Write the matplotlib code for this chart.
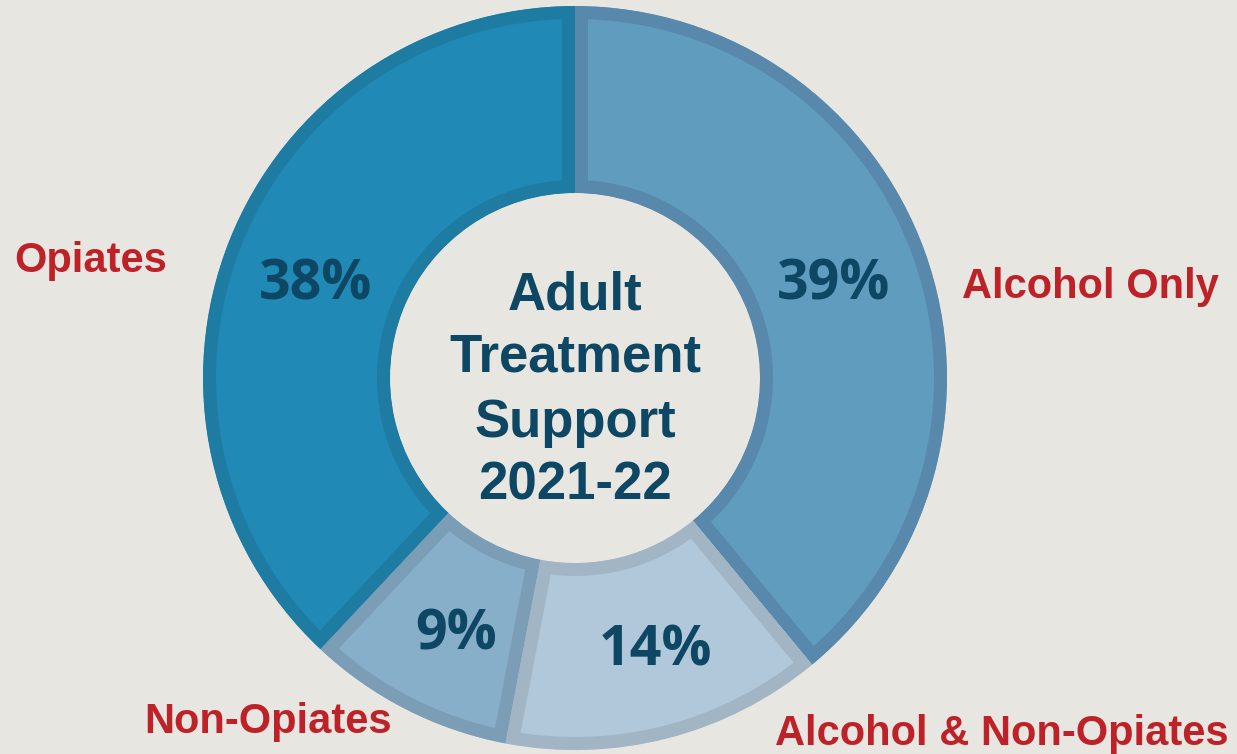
import matplotlib.pyplot as plt

# data
categories = ["Alcohol Only", "Alcohol & Non-Opiates", "Non-Opiates", "Opiates"]
shares = [39, 14, 9, 38]
fills = ["#5f9cbe", "#b1c8da", "#87afca", "#2089b5"]
edges = ["#5888ab", "#a1b5c4", "#7b9db5", "#1e7ba1"]
centre_lines = ["Adult", "Treatment", "Support", "2021-22"]

W, H = 1237, 754
BG = "#e8e6e1"
NAVY = "#0d4763"
RED = "#be2229"

fig = plt.figure(figsize=(W / 100, H / 100), dpi=100, facecolor=BG)
ax = fig.add_axes([0, 0, 1, 1])
ax.set_facecolor(BG)

cx, cy = 575, H - 378
r_out, r_in = 372, 185

wedges, _ = ax.pie(shares, colors=fills, startangle=90, counterclock=False,
                   radius=r_out, center=(cx, cy),
                   wedgeprops=dict(width=r_out - r_in, linewidth=18.7))

ax.set_xlim(0, W)
ax.set_ylim(0, H)
ax.set_aspect("equal")
ax.axis("off")

# keep each wedge's outline inside its own area (pie turns clipping off)
for w, ec in zip(wedges, edges):
    w.set_edgecolor(ec)
    w.set_clip_on(True)
    w.set_clip_path(w.get_path(), w.get_transform())

# percentages (x, baseline y in pixels from top)
pct_pos = [(834, 300), (655, 665), (456, 650), (316, 300)]
for v, (x, y) in zip(shares, pct_pos):
    ax.text(x, H - y, f"{v}%", ha="center", va="baseline", fontsize=40,
            fontweight="bold", family="Open Sans", color=NAVY)

# category labels
lab_pos = [(1090, 298), (1002, 745), (268, 733), (91, 272)]
for name, (x, y) in zip(categories, lab_pos):
    ax.text(x, H - y, name, ha="center", va="baseline", fontsize=30,
            fontweight="bold", family="Liberation Sans", color=RED)

# centre title
for line, y in zip(centre_lines, [310, 372, 437, 500]):
    ax.text(cx, H - y, line, ha="center", va="baseline", fontsize=38,
            fontweight="bold", family="Liberation Sans", color=NAVY)

fig.savefig("out.png", dpi=100, facecolor=BG)
